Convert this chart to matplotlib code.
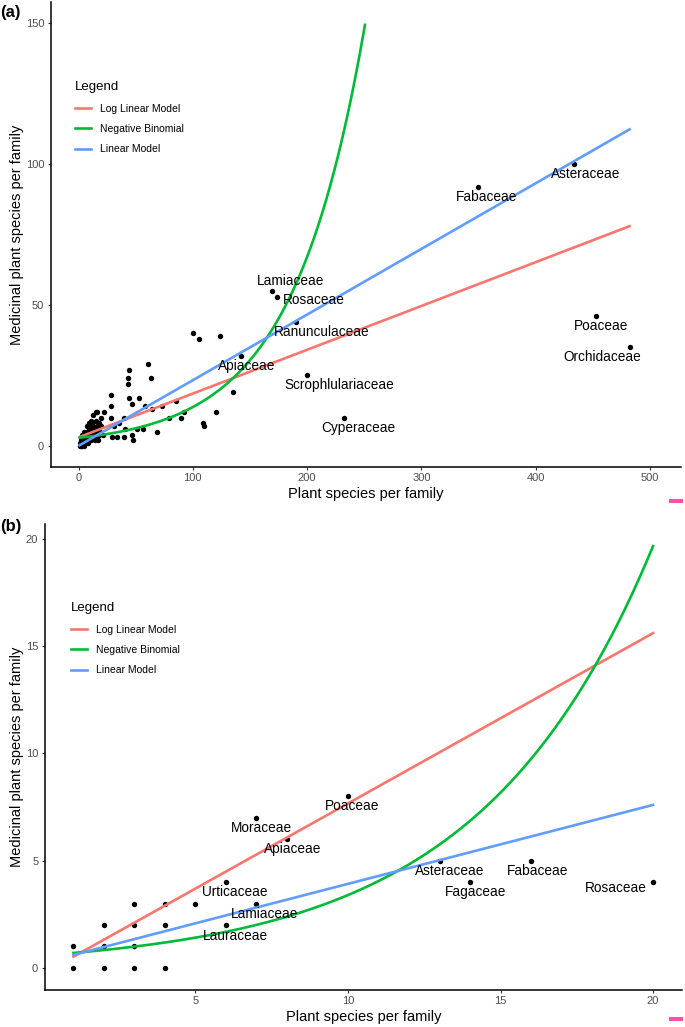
import numpy as np
import matplotlib
matplotlib.use("Agg")
import matplotlib.pyplot as plt
from matplotlib.lines import Line2D
from matplotlib.patches import Rectangle

plt.rcParams['font.family'] = ['Liberation Sans', 'DejaVu Sans']

# ---------------- panel (a) data ----------------
a_named = ['Asteraceae', 'Fabaceae', 'Poaceae', 'Orchidaceae', 'Lamiaceae', 'Rosaceae',
           'Ranunculaceae', 'Apiaceae', 'Scrophlulariaceae', 'Cyperaceae']
a_named_x = [433, 349, 453, 482, 169, 174, 190, 142, 200, 232]
a_named_y = [100, 92, 46, 35, 55, 53, 44, 32, 25, 10]

a_other_x = [100, 105, 124, 135, 120, 109, 110, 61, 44, 43, 63, 43, 28, 44, 53, 47, 28, 58,
             64, 73, 85, 15, 22, 28, 40, 35, 79, 90, 92, 51, 56, 69, 29, 34, 40, 47, 48, 31, 41,
             1, 1, 2, 2, 2, 3, 3, 3, 4, 4, 4, 5, 5, 5, 5, 6, 6, 6, 7, 7, 7, 8, 8, 8, 9, 9, 9,
             10, 10, 10, 11, 11, 11, 12, 12, 12, 13, 13, 14, 14, 15, 15, 16, 16, 17, 18, 18, 19,
             20, 20, 13, 16, 11, 9, 7, 5, 3, 21, 17]
a_other_y = [40, 38, 39, 19, 12, 8, 7, 29, 27, 24, 24, 22, 18, 17, 17, 15, 14, 14,
             13, 14, 16, 12, 12, 10, 10, 8, 10, 10, 12, 6, 6, 5, 3, 3, 3, 4, 2, 7, 6,
             0, 1, 0, 1, 2, 0, 1, 2, 1, 2, 3, 0, 1, 2, 3, 1, 2, 4, 2, 3, 5, 1, 3, 4, 2, 4, 6,
             3, 5, 7, 2, 4, 6, 3, 5, 8, 4, 7, 2, 6, 5, 9, 3, 7, 6, 4, 8, 5,
             7, 10, 11, 12, 9, 8, 7, 5, 4, 4, 2]

# model coefficients
a_loglin = (3.0, 0.1555)      # intercept, slope
a_linear = (0.0, 0.233)
a_negbin = (1.038, 0.01584)   # exp(a + b x)
a_x_range = (1, 482)

# ---------------- panel (b) data ----------------
b_named = ['Moraceae', 'Poaceae', 'Apiaceae', 'Urticaceae', 'Lamiaceae', 'Lauraceae',
           'Asteraceae', 'Fabaceae', 'Fagaceae', 'Rosaceae']
b_named_x = [7, 10, 8, 6, 7, 6, 13, 16, 14, 20]
b_named_y = [7, 8, 6, 4, 3, 2, 5, 5, 4, 4]

b_other_x = [1, 1, 2, 2, 2, 3, 3, 3, 3, 4, 4, 4, 5]
b_other_y = [1, 0, 2, 1, 0, 3, 2, 1, 0, 3, 2, 0, 3]

b_loglin = (-0.27, 0.794)
b_linear = (0.24, 0.368)
b_negbin = (-0.533, 0.1756)
b_x_range = (1, 20)

legend_labels = ['Log Linear Model', 'Negative Binomial', 'Linear Model']
colors = ['#F8766D', '#00BA38', '#619CFF']

# label offsets in pixels (dx, dy downward)
a_offsets = [(12, 10), (9, 10), (5, 10), (-27, 10), (19, -10), (36, 4), (26, 10), (6, 10),
             (32, 10), (15, 10)]
b_offsets = [(5, 10), (4, 10), (6, 10), (9, 10), (8, 10), (9, 11), (10, 10), (7, 10),
             (6, 10), (-37, 6)]

W, H = 685, 1027
fig = plt.figure(figsize=(W / 100, H / 100), dpi=100)


def px_axes(left, top, right, bottom):
    return fig.add_axes([left / W, 1 - bottom / H, (right - left) / W, (bottom - top) / H])


def style(ax):
    for s in ['top', 'right']:
        ax.spines[s].set_visible(False)
    for s in ['left', 'bottom']:
        ax.spines[s].set_linewidth(1.1)
        ax.spines[s].set_color('black')
    ax.tick_params(direction='out', length=2.5, width=0.8, color='#333333',
                   labelsize=8, labelcolor='#4D4D4D', pad=2)
    ax.set_xlabel('Plant species per family', fontsize=10.5, labelpad=3)
    ax.set_ylabel('Medicinal plant species per family', fontsize=10.5, labelpad=1)


def draw_panel(ax, ox, oy, nx, ny, names, offsets, loglin, linear, negbin, xr, ymax):
    xs = np.linspace(xr[0], xr[1], 400)
    y_ll = loglin[0] + loglin[1] * xs
    y_nb = np.exp(negbin[0] + negbin[1] * xs)
    y_lm = linear[0] + linear[1] * xs
    if ymax is not None:
        keep = y_nb <= ymax
        xs_nb, y_nb = xs[keep], y_nb[keep]
    else:
        xs_nb = xs
    ax.scatter(ox + nx, oy + ny, s=15, color='black', zorder=3, linewidths=0)
    ax.plot(xs, y_ll, color=colors[0], lw=1.9, zorder=4)
    ax.plot(xs_nb, y_nb, color=colors[1], lw=1.9, zorder=4)
    ax.plot(xs, y_lm, color=colors[2], lw=1.9, zorder=4)
    for name, x, y, (dx, dy) in zip(names, nx, ny, offsets):
        ax.annotate(name, (x, y), xytext=(dx, -dy), textcoords='offset pixels',
                    ha='center', va='center', fontsize=9.8, color='black', zorder=5)


def add_legend(ax, x, y):
    handles = [Line2D([], [], color=c, lw=1.9) for c in colors]
    leg = ax.legend(handles, legend_labels, title='Legend', loc='upper left',
                    bbox_to_anchor=(x / W, 1 - y / H), bbox_transform=fig.transFigure,
                    frameon=False, fontsize=7.5, title_fontsize=9.5, handlelength=1.55,
                    handletextpad=0.85, labelspacing=1.0, borderpad=0, alignment='left')
    return leg


# panel (a)
ax_a = px_axes(50.5, 2, 681, 467)
draw_panel(ax_a, a_other_x, a_other_y, a_named_x, a_named_y, a_named, a_offsets,
           a_loglin, a_linear, a_negbin, a_x_range, 150)
ax_a.set_xlim(-24.5, 527)
ax_a.set_ylim(-7.5, 157.5)
ax_a.set_xticks([0, 100, 200, 300, 400, 500])
ax_a.set_yticks([0, 50, 100, 150])
style(ax_a)
add_legend(ax_a, 70, 76)

# panel (b)
ax_b = px_axes(44.5, 524, 682, 990)
draw_panel(ax_b, b_other_x, b_other_y, b_named_x, b_named_y, b_named, b_offsets,
           b_loglin, b_linear, b_negbin, b_x_range, None)
ax_b.set_xlim(0.05, 20.95)
ax_b.set_ylim(-1.03, 20.7)
ax_b.set_xticks([5, 10, 15, 20])
ax_b.set_yticks([0, 5, 10, 15, 20])
style(ax_b)
add_legend(ax_b, 66, 597)

fig.text(0.0, 1 - 13 / H, '(a)', fontsize=12, fontweight='bold', va='center', ha='left')
fig.text(0.0, 1 - 526 / H, '(b)', fontsize=12, fontweight='bold', va='center', ha='left')

for ytop in (499, 1017):
    fig.add_artist(Rectangle((669 / W, 1 - (ytop + 4) / H), 14 / W, 4 / H,
                             transform=fig.transFigure, color='#FF4FA7', lw=0))

fig.savefig('out.png', dpi=100)
